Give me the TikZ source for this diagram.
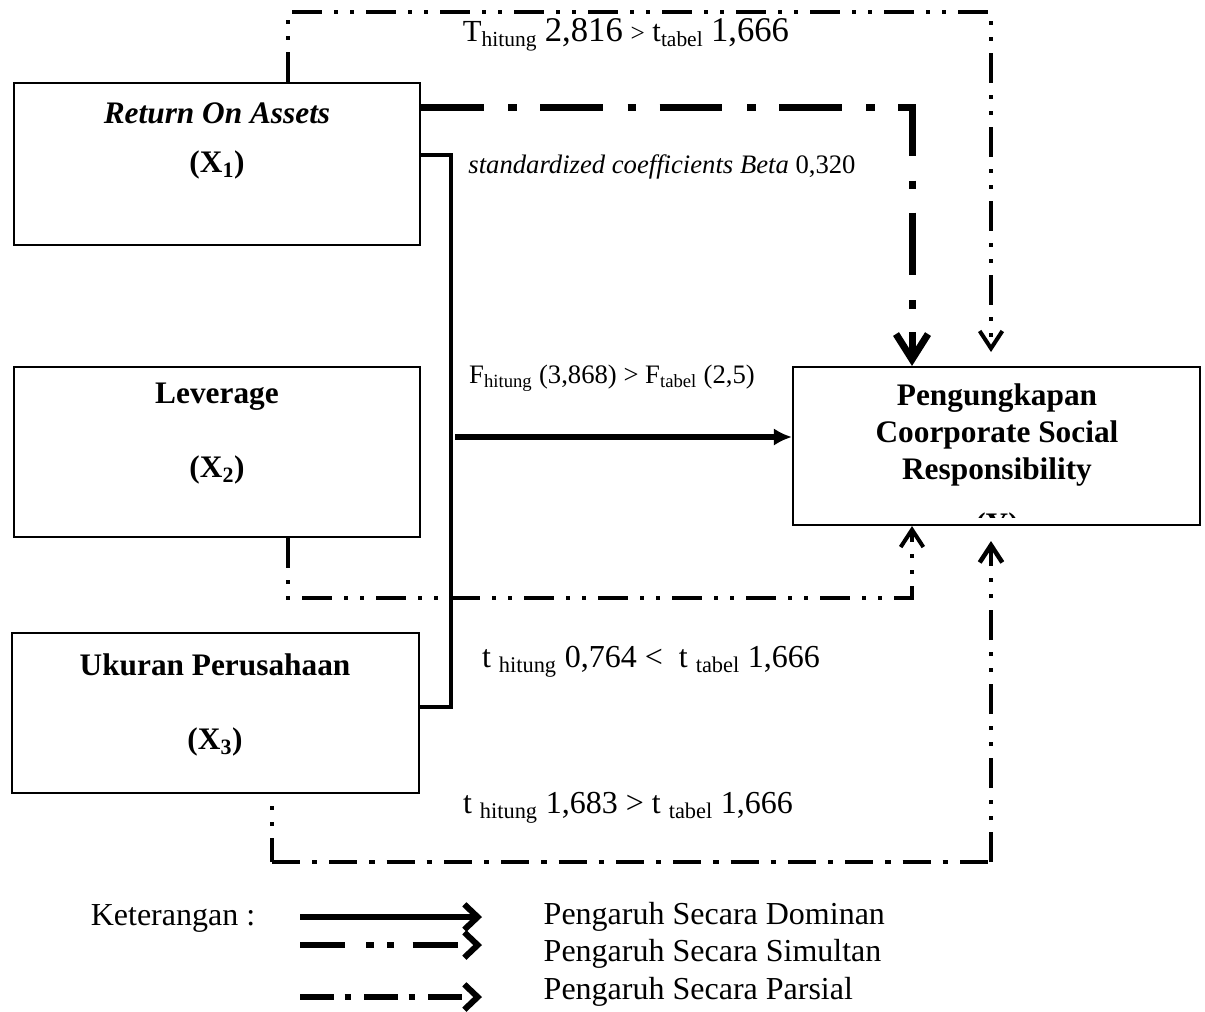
\documentclass[tikz,border=0pt]{standalone}
\usepackage{fontspec}
\setmainfont{Liberation Serif}
\usetikzlibrary{arrows.meta}

\newcommand{\bignum}[1]{{\fontsize{26}{28}\selectfont #1}}

\begin{document}
\begin{tikzpicture}[x=0.75pt, y=-0.75pt,
    var/.style={draw, line width=1.6pt, inner sep=0pt},
    vtitle/.style={font=\fontsize{23.5}{27.75}\selectfont\bfseries, align=center},
    lbl/.style={font=\fontsize{24}{28}\selectfont},
    slbl/.style={font=\fontsize{20}{24}\selectfont},
    dom/.style={line width=3.2pt},
    beta/.style={line width=5.25pt, dash pattern=on 47pt off 18.5pt on 6.5pt off 17.5pt},
    simul/.style={line width=3pt, dash pattern=on 22.5pt off 9pt on 3pt off 9pt on 3pt off 9pt},
    parsial/.style={line width=3pt, dash pattern=on 21pt off 9pt on 4pt off 9pt},
    thinbarb/.style={-{Straight Barb[length=13pt,width=17pt]}},
    legdom/.style={line width=4.5pt, -{Straight Barb[length=10pt,width=19pt]}},
    legsim/.style={legdom, dash pattern=on 34pt off 15.5pt on 6pt off 10pt on 5pt off 14pt},
    legpar/.style={legdom, dash pattern=on 25.5pt off 8pt on 4.5pt off 10pt}
]
\useasboundingbox (0,0) rectangle (1205,1011);

\node[var, minimum width=304.5pt, minimum height=121.5pt] (roa) at (217,164) {};
\node[var, minimum width=304.5pt, minimum height=127.5pt] (lev) at (217,452) {};
\node[var, minimum width=305.25pt, minimum height=120pt] (uku) at (215.5,713) {};
\node[var, minimum width=305.25pt, minimum height=118.5pt] (csr) at (996.5,446) {};

\node[vtitle, font=\fontsize{23.5}{27.75}\selectfont\bfseries\itshape] (roat) at (217,113) {Return On Assets};
\node[vtitle] (roax) at (217,165) {(X\textsubscript{1})};
\node[vtitle] (levt) at (217,397) {Leverage};
\node[vtitle] (levx) at (217,470) {(X\textsubscript{2})};
\node[vtitle] (ukut) at (215,665) {Ukuran Perusahaan};
\node[vtitle] (ukux) at (215,742) {(X\textsubscript{3})};
\node[vtitle] (csrt) at (997,435) {Pengungkapan\\Coorporate Social\\Responsibility};
\begin{scope}
  \clip (793,367) rectangle (1200,517);
  \node[vtitle] (csry) at (997,527) {(Y)};
\end{scope}

% garis simultan
\coordinate (bt) at (451,155);
\coordinate (bb) at (451,707);
\coordinate (fs) at (455,437);
\draw[dom] (roa.east |- bt) -- (bt) -- (bb) -- (uku.east |- bb);
\draw[line width=4.5pt, -{Latex[length=13.5pt,width=13pt]}] (fs) -- (fs -| csr.west);
\node[slbl] (flbl) at (612,378) {F\textsubscript{hitung} (3,868) > F\textsubscript{tabel} (2,5)};

% ROA dominan
\coordinate (b1) at (912,107);
\draw[beta, -{Straight Barb[length=19pt,width=24pt]}] (roa.east |- b1) -- (b1) -- (b1 |- csr.north);
\node[slbl] (blbl) at (662,167) {\textit{standardized coefficients Beta} 0,320};

% ROA parsial
\coordinate (t1) at (288,12);
\coordinate (t2) at (991,12);
\coordinate (t3) at (991,352);
\draw[simul, thinbarb] (roa.north -| t1) -- (t1) -- (t2) -- (t3);
\node[lbl, font=\fontsize{23}{28}\selectfont] (tlbl) at (626,35) {T\textsubscript{hitung} \bignum{2,816} {\fontsize{19}{19}\selectfont >} t\textsubscript{tabel} \bignum{1,666}};

% leverage parsial
\coordinate (l1) at (288,598);
\coordinate (l2) at (912,598);
\draw[simul, thinbarb] (lev.south -| l1) -- (l1) -- (l2) -- (l2 |- csr.south);
\node[lbl] (llbl) at (651,662) {t \textsubscript{hitung} 0,764 <\ \ t \textsubscript{tabel} 1,666};

% ukuran parsial
\coordinate (u1) at (272,862);
\coordinate (u2) at (991,862);
\coordinate (u3) at (991,541);
\draw[simul, dash phase=22.5pt] (uku.south -| u1) -- (u1);
\draw[parsial] (u1) -- (u2);
\draw[simul, line width=3.4pt, thinbarb] (u2) -- (u3);
\node[lbl] (ulbl) at (628,808) {t \textsubscript{hitung} 1,683 > t \textsubscript{tabel} 1,666};

% keterangan
\node[lbl] (ket) at (173,918) {Keterangan :};
\node[lbl, anchor=west] (ldom) at (539,917) {Pengaruh Secara Dominan};
\node[lbl, anchor=west] (lsim) at (539,954) {Pengaruh Secara Simultan};
\node[lbl, anchor=west] (lpar) at (539,992) {Pengaruh Secara Parsial};
\coordinate (kd0) at (300,917);
\coordinate (kd1) at (482,917);
\coordinate (ks0) at (300,945);
\coordinate (ks1) at (482,945);
\coordinate (kp0) at (300,997);
\coordinate (kp1) at (482,997);
\draw[legdom] (kd0) -- (kd1);
\draw[legsim] (ks0) -- (ks1);
\draw[legpar] (kp0) -- (kp1);
\end{tikzpicture}
\end{document}
